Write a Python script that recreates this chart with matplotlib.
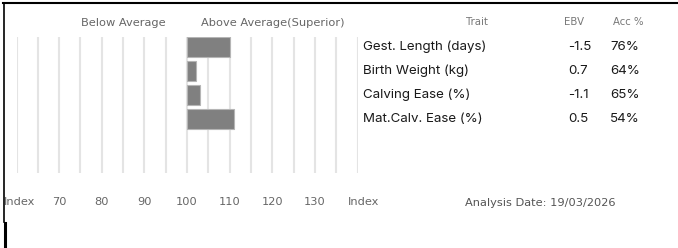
import matplotlib
matplotlib.use("Agg")
import matplotlib.pyplot as plt
import numpy as np
from matplotlib.transforms import blended_transform_factory, ScaledTranslation
from matplotlib.lines import Line2D

# ---- data ----
traits = ["Gest. Length (days)", "Birth Weight (kg)", "Calving Ease (%)", "Mat.Calv. Ease (%)"]
index_values = [110, 102, 103, 111]
ebv_values = ["-1.5", "0.7", "-1.1", "0.5"]
acc_values = ["76%", "64%", "65%", "54%"]
tick_values = [60, 70, 80, 90, 100, 110, 120, 130, 140]
tick_labels = ["Index", "70", "80", "90", "100", "110", "120", "130", "Index"]
base_index = 100
analysis_date = "19/03/2026"

W, H = 678, 248
fig = plt.figure(figsize=(W / 100, H / 100), dpi=100)
fig.patch.set_facecolor("white")

def fx(px):
    return px / W

def fy(py):
    return 1 - py / H

ax_left, ax_right, ax_top, ax_bot = 16.5, 357.6, 37, 173
ax = fig.add_axes([fx(ax_left), fy(ax_bot), fx(ax_right - ax_left), (ax_bot - ax_top) / H])
ax.set_xlim(60, 140)
ax.set_ylim(5.25, -0.4167)

rows = np.arange(len(traits))
ax.barh(rows, [v - base_index for v in index_values], left=base_index, height=0.833,
        color="#808080", edgecolor="#b5b5b5", linewidth=0.8, zorder=3)

ax.set_xticks(tick_values)
ax.set_xticklabels(tick_labels)
ax.set_xticks(np.arange(60, 141, 5), minor=True)
ax.set_yticks([])
ax.grid(axis="x", which="both", color="#e4e4e4", linewidth=1.5, zorder=0)
ax.tick_params(axis="x", which="both", length=0, pad=17, labelsize=8.2, labelcolor="#666666")
for s in ax.spines.values():
    s.set_visible(False)

# nudge the end "Index" labels slightly right, as in the reference
labels = ax.get_xticklabels()
labels[0].set_transform(labels[0].get_transform() + ScaledTranslation(3.5 / 100, 0, fig.dpi_scale_trans))
labels[-1].set_transform(labels[-1].get_transform() + ScaledTranslation(6 / 100, 0, fig.dpi_scale_trans))

# header texts above the chart (x in index units, y in figure pixels)
hdr_tr = blended_transform_factory(ax.transData, fig.transFigure)
ax.text(85, fy(22.5), "Below Average", transform=hdr_tr, ha="center", va="center",
        fontsize=8.2, color="#666666", clip_on=False)
ax.text(120, fy(22.5), "Above Average(Superior)", transform=hdr_tr, ha="center", va="center",
        fontsize=8.2, color="#666666", clip_on=False)

# table
tr = blended_transform_factory(fig.transFigure, ax.transData)
fig.text(fx(477), fy(22), "Trait", ha="center", va="center", fontsize=7.3, color="#777777")
fig.text(fx(574), fy(22), "EBV", ha="center", va="center", fontsize=7.3, color="#777777")
fig.text(fx(628), fy(22), "Acc %", ha="center", va="center", fontsize=7.3, color="#777777")
for i, (t, e, a) in enumerate(zip(traits, ebv_values, acc_values)):
    ax.text(fx(363), i, t, transform=tr, ha="left", va="center", fontsize=9.6, color="#1a1a1a",
            family="Inter", clip_on=False)
    ax.text(fx(568), i, e, transform=tr, ha="left", va="center", fontsize=9.6, color="#1a1a1a",
            family="Inter", clip_on=False)
    ax.text(fx(610), i, a, transform=tr, ha="left", va="center", fontsize=9.6, color="#1a1a1a",
            family="Inter", clip_on=False)

fig.text(fx(465), fy(203), "Analysis Date: " + analysis_date, ha="left", va="center",
         fontsize=8.2, color="#555555")

# frame lines
fig.add_artist(Line2D([fx(3), fx(678)], [fy(3), fy(3)], color="black", linewidth=1.5,
                      transform=fig.transFigure))
fig.add_artist(Line2D([fx(3.5), fx(3.5)], [fy(3), fy(222)], color="black", linewidth=1.2,
                      transform=fig.transFigure))
fig.add_artist(Line2D([fx(4.5), fx(4.5)], [fy(223), fy(248)], color="black", linewidth=2.2,
                      transform=fig.transFigure))

fig.savefig("out.png", dpi=100, facecolor="white")
